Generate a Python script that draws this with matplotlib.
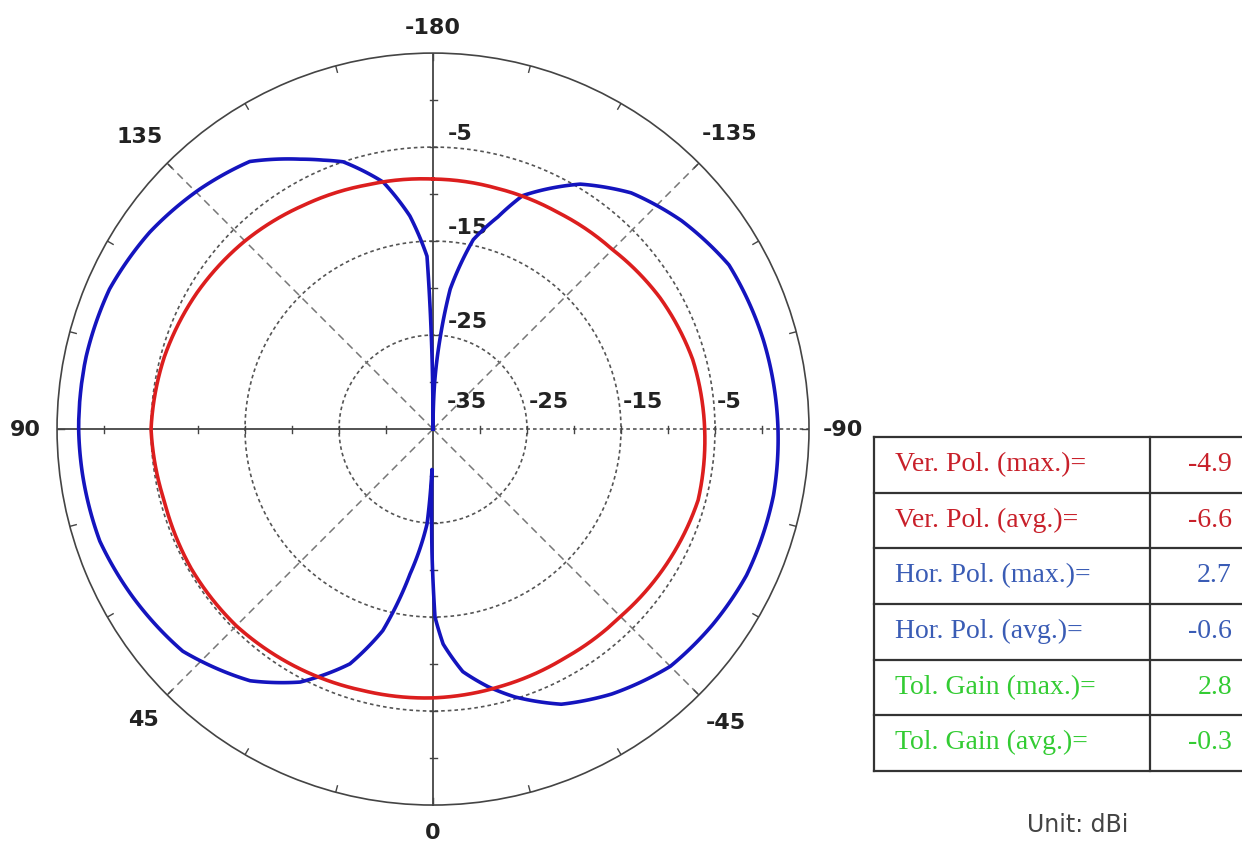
import numpy as np
import matplotlib.pyplot as plt

plt.rcParams['lines.scale_dashes'] = False

# measured pattern, dBi (angle convention: 0 at bottom, 90 at left)
ver_theta = [-180, -165, -150, -135, -120, -105, -90, -75, -60, -45, -30, -15,
             0, 15, 30, 45, 60, 75, 90, 105, 120, 135, 150, 165, 180]
ver_db = [-8.4, -8.5, -8.4, -8.0, -7.1, -6.4, -6.1, -5.8, -6.3, -6.8, -6.9, -6.7,
          -6.4, -6.2, -5.8, -5.4, -5.3, -5.4, -5.0, -5.4, -6.0, -6.7, -7.5, -8.1, -8.4]

hor_theta = [-180, -178, -175.6, -173, -168, -163, -159, -149, -140, -130, -119,
             -105, -90, -79, -65, -55, -45, -34, -25, -17, -12, -7, -2.7, -0.6,
             0.5, 1.5, 3.6, 9, 14, 19.5, 27.7, 36, 48.4, 60.8, 71.4, 82.7, 90,
             101.8, 113.4, 124.8, 135.8, 145.6, 153.8, 157.8, 161.4, 168.6,
             173.8, 178, 179.5, 180]
hor_db = [-35, -30, -25.4, -20, -14.4, -11.4, -8.4, -4.6, -2.2, -0.5, 1.0,
          1.4, 1.7, 1.9, 1.8, 1.3, 0.7, -1.0, -2.7, -5.2, -7.0, -9.0, -12.1, -15,
          -22, -30.7, -24.9, -19.4, -12.9, -8.5, -4.6, -1.9, 0.6, 1.6, 2.4, 2.6, 2.7,
          2.7, 2.5, 1.7, 0.6, -0.5, -3.0, -4.1, -5.0, -8.2,
          -12.2, -16.6, -30, -35]

angle_ticks = [0, 45, 90, 135, 180, -135, -90, -45]
angle_labels = ['0', '45', '90', '135', '-180', '-135', '-90', '-45']
angle_label_r = [7.9, 8.6, 8.4, 9.1, 7.8, 9.6, 8.6, 9.1]
rings = [-25, -15, -5]

table_labels = ['Ver. Pol. (max.)=', 'Ver. Pol. (avg.)=', 'Hor. Pol. (max.)=',
                'Hor. Pol. (avg.)=', 'Tol. Gain (max.)=', 'Tol. Gain (avg.)=']
table_values = ['-4.9', '-6.6', '2.7', '-0.6', '2.8', '-0.3']
table_colors = ['#c8202a', '#c8202a', '#3a5cb5', '#3a5cb5', '#33cc33', '#33cc33']

fig = plt.figure(figsize=(12.42, 8.45), dpi=100)
fig.patch.set_facecolor('white')

# table in pixel coordinates
tab = fig.add_axes([0, 0, 1, 1])
tab.set_xlim(0, 1242)
tab.set_ylim(845, 0)
tab.axis('off')
top, rowh = 438, 55.67
nrow = len(table_labels)
for i in range(nrow + 1):
    tab.plot([874, 1242], [top + i * rowh] * 2, color='#333333', lw=1.6)
for x in (874, 1150):
    tab.plot([x, x], [top, top + nrow * rowh], color='#333333', lw=1.6)
for i, (lab, val, c) in enumerate(zip(table_labels, table_values, table_colors)):
    y = top + i * rowh + 33
    tab.text(895, y, lab, color=c, fontsize=20, family='Liberation Serif',
             ha='left', va='baseline')
    tab.text(1232, y, val, color=c, fontsize=20, family='Liberation Serif',
             ha='right', va='baseline')
tab.text(1078, 825, 'Unit: dBi', color='#444444', fontsize=17,
         family='DejaVu Sans', ha='center', va='center')

# polar chart
ax = fig.add_axes([0.0459, 0.0461, 0.6055, 0.8899], projection='polar')
ax.set_theta_zero_location('S')
ax.set_theta_direction(-1)
ax.set_ylim(-35, 5)
ax.set_xticks([])
ax.set_yticks([])
ax.grid(False)
ax.spines['polar'].set(color='#444444', lw=1.2)

th = np.linspace(0, 2 * np.pi, 721)
for r in rings:
    ax.plot(th, np.full_like(th, r), color='#555555', lw=1.2, ls=(0, (2.6, 2.2)))

gc = '#444444'
ax.plot([0, 0], [-35, 5], color=gc, lw=1.3)
ax.plot([np.pi, np.pi], [-35, 5], color=gc, lw=1.3)
ax.plot([np.pi / 2] * 2, [-35, 5], color=gc, lw=1.3)
ax.plot([-np.pi / 2] * 2, [-35, 5], color='#555555', lw=1.2, ls=(0, (2.6, 2.2)))
for a in (45, 135, -45, -135):
    ax.plot([np.deg2rad(a)] * 2, [-35, 5], color='#777777', lw=1.1,
            ls=(0, (5.5, 3.6)))

# small ticks along the axes and the outer circle
for a in (0, 90, 180, -90):
    for r in range(-30, 5, 5):
        d = 3.5 / ((r + 35) * 9.4)
        ax.plot([np.deg2rad(a) - d, np.deg2rad(a) + d], [r, r], color=gc, lw=1.0)
for a in range(0, 360, 15):
    ax.plot([np.deg2rad(a)] * 2, [4.3, 5], color=gc, lw=1.0)

hl, = ax.plot(np.deg2rad(hor_theta), hor_db, color='#1414be', lw=2.6, zorder=5)
vl, = ax.plot(np.deg2rad(ver_theta), ver_db, color='#dc1e1e', lw=2.6, zorder=6)
# let the polar transform draw arcs between the measured points
for ln in (hl, vl):
    ln.get_path()._interpolation_steps = 40

lab_font = dict(fontsize=16, fontweight='bold', family='DejaVu Sans', color='#222222')
for a, t, r in zip(angle_ticks, angle_labels, angle_label_r):
    ax.text(np.deg2rad(a), r, t, ha='center', va='center', clip_on=False, **lab_font)

# radial labels
ax.annotate('-35', xy=(0, -35), xytext=(14, 28), textcoords='offset pixels',
            ha='left', va='center', **lab_font)
for r in rings:
    ax.annotate(str(r), xy=(-np.pi / 2, r), xytext=(2, 28), textcoords='offset pixels',
                ha='left', va='center', **lab_font)
    ax.annotate(str(r), xy=(np.pi, r), xytext=(15, 14), textcoords='offset pixels',
                ha='left', va='center', **lab_font)

fig.savefig('out.png', dpi=100)
